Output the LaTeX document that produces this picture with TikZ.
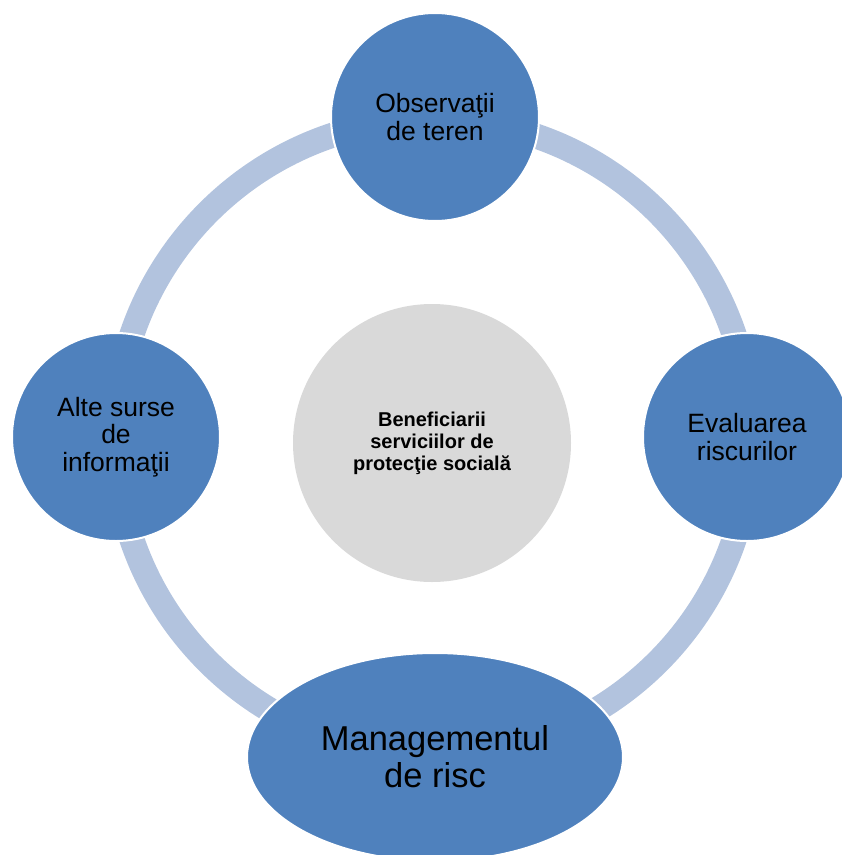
\documentclass[tikz,border=0pt]{standalone}
\usepackage{fontspec}
\setmainfont{Liberation Sans}
\usetikzlibrary{shapes.geometric}
\definecolor{ringc}{HTML}{B2C3DE}
\definecolor{bluec}{HTML}{4F81BD}
\definecolor{grayc}{HTML}{D9D9D9}
\begin{document}
\begin{tikzpicture}[x=1pt,y=-1pt,
  outer/.style={circle,fill=bluec,draw=white,line width=2pt,minimum size=208pt,inner sep=0pt,align=center,font=\fontsize{26.5}{27.5}\selectfont},
  hub/.style={circle,fill=grayc,minimum size=278pt,inner sep=0pt,align=center,font=\fontsize{20}{22}\selectfont\bfseries},
  bottomell/.style={ellipse,fill=bluec,draw=white,line width=2pt,minimum width=376pt,minimum height=208pt,inner sep=0pt,align=center,font=\fontsize{34.5}{37}\selectfont}]
\useasboundingbox (0,0) rectangle (842,855);
\coordinate (c) at (433,437);
\draw[ringc,line width=25pt] (c) circle[radius=318];
\node[hub] (hub) at (432,443) {Beneficiarii\\serviciilor de\\protecţie socială};
\node[outer] (top) at (435,117) {Observaţii\\de teren};
\node[outer] (right) at (747,437) {Evaluarea\\riscurilor};
\node[outer] (left) at (116,437) {Alte surse\\de\\informaţii};
\node[bottomell] (bottom) at (435,757) {Managementul\\de risc};
\end{tikzpicture}
\end{document}
